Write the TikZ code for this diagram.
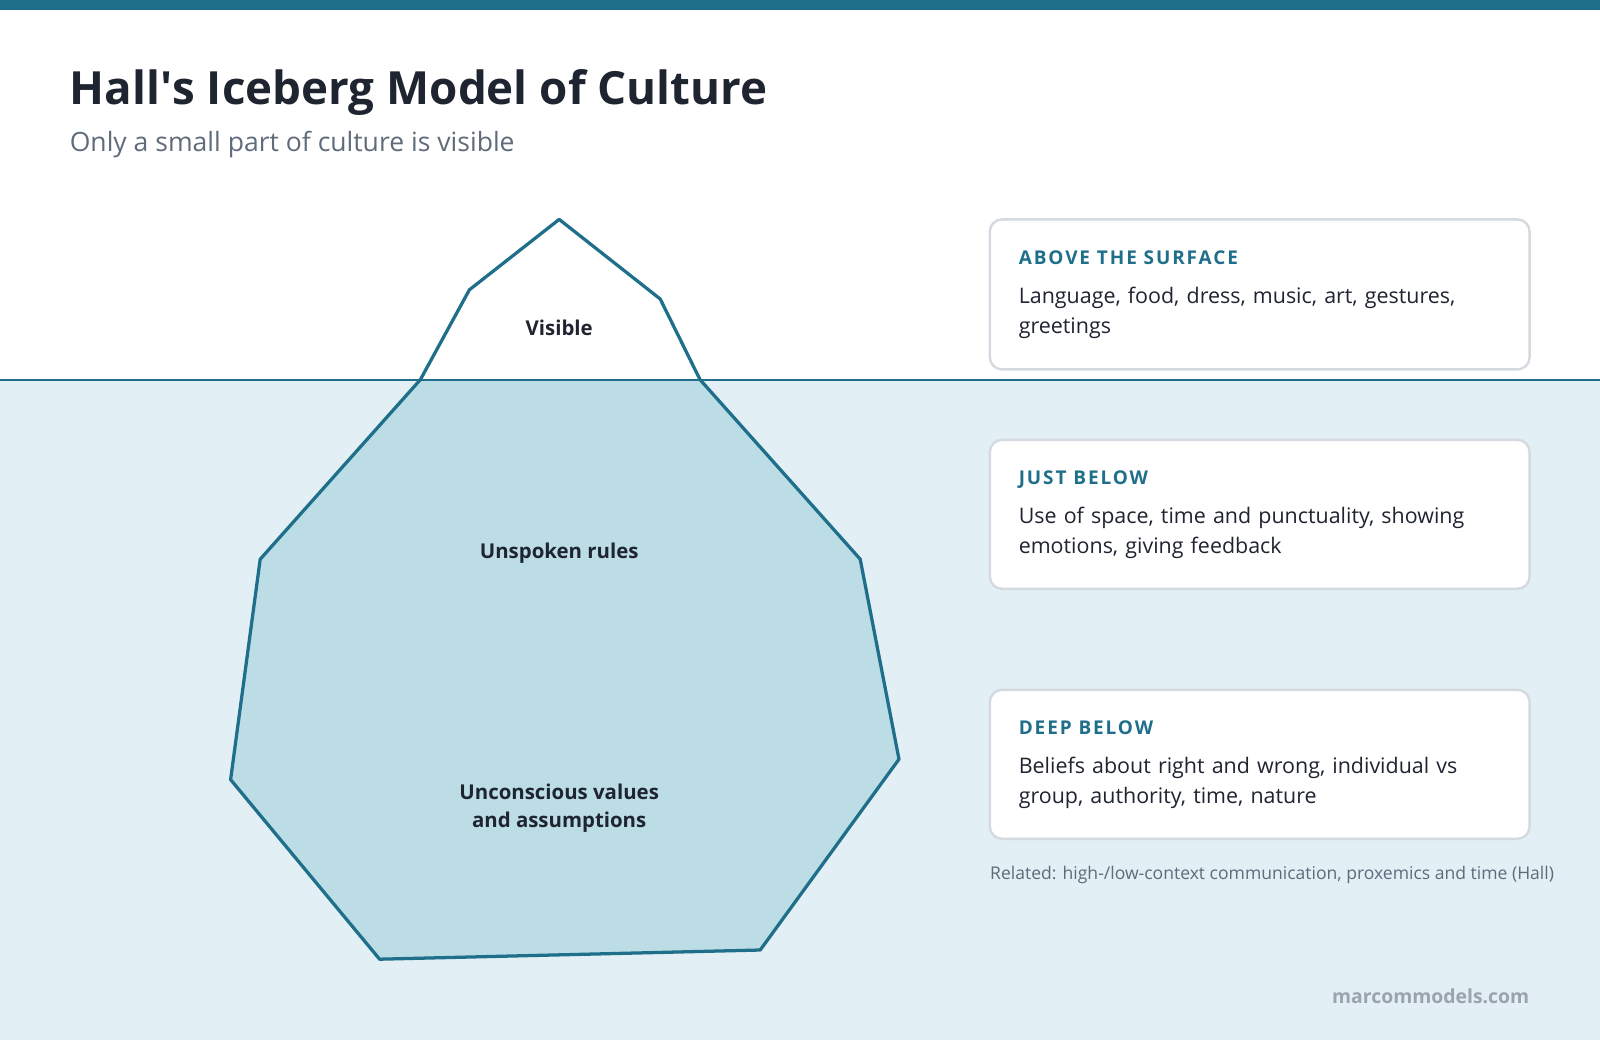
\documentclass[tikz,border=0pt]{standalone}
\usepackage{fontspec}
\setmainfont{Open Sans}
\definecolor{teal}{HTML}{1F6F8B}
\definecolor{water}{HTML}{E2EFF5}
\definecolor{ice}{HTML}{BCDDE6}
\definecolor{ink}{HTML}{1E2430}
\definecolor{sub}{HTML}{5F6B7A}
\definecolor{bord}{HTML}{D5D9E0}
\definecolor{mark}{HTML}{9AA3AE}
\newcommand{\fs}[2]{\fontsize{#1}{#2}\selectfont}
\tikzset{
 box/.style={draw=bord,line width=1.2pt,rounded corners=6pt,fill=white},
 head/.style={anchor=base west,text=teal,font=\fs{9.3pt}{12pt}\bfseries\addfontfeature{LetterSpace=10},inner sep=0pt},
 body/.style={anchor=north west,text=ink,font=\fs{10.5pt}{14.5pt},text width=230pt,align=left,inner sep=0pt},
 lab/.style={text=ink,font=\fs{10pt}{14pt}\bfseries,align=center}
}
\begin{document}
\begin{tikzpicture}[x=0.5pt,y=-0.5pt]
\useasboundingbox (0,0) rectangle (1568,1019);
\fill[water] (0,372) rectangle (1568,1019);
\fill[teal] (0,0) rectangle (1568,10);
\draw[teal,line width=1pt] (0,372) -- (1568,372);
\coordinate (p1) at (548,215);
\fill[ice] (412,372) -- (686,372) -- (843,548) -- (881,744) -- (745,931) -- (372,940) -- (226,764) -- (255,548) -- cycle;
\draw[teal,line width=1.6pt,line join=round] (p1) -- (647,293) -- (686,372) -- (843,548) -- (881,744) -- (745,931) -- (372,940) -- (226,764) -- (255,548) -- (412,372) -- (460,284) -- cycle;
\draw[teal,line width=1pt] (412,372) -- (686,372);
\node[anchor=base west,text=ink,font=\fs{22.4pt}{28pt}\bfseries,inner sep=0pt] (title) at (68,102) {Hall\textquotesingle s Iceberg Model of Culture};
\node[anchor=base west,text=sub,font=\fs{13pt}{16pt},inner sep=0pt] (subt) at (68,148) {Only a small part of culture is visible};
\node[lab] (l1) at (548,321) {Visible};
\node[lab] (l2) at (548,542) {Unspoken rules};
\node[lab] (l3) at (548,792) {Unconscious values\\and assumptions};
\draw[box] (970,215) rectangle (1499,362);
\draw[box] (970,431) rectangle (1499,577);
\draw[box] (970,676) rectangle (1499,822);
\node[head] (h1) at (998,259) {ABOVE THE SURFACE};
\node[body] (b1) at (998,281) {Language, food, dress, music, art, gestures, greetings};
\node[head] (h2) at (998,475) {JUST BELOW};
\node[body] (b2) at (998,497) {Use of space, time and punctuality, showing emotions, giving feedback};
\node[head] (h3) at (998,720) {DEEP BELOW};
\node[body] (b3) at (998,742) {Beliefs about right and wrong, individual vs group, authority, time, nature};
\node[anchor=base west,text=sub,font=\fs{8.6pt}{10pt},inner sep=0pt] (rel) at (970,862) {Related: high-/low-context communication, proxemics and time (Hall)};
\node[anchor=base east,text=mark,font=\fs{9.5pt}{12pt}\bfseries,inner sep=0pt] (mk) at (1499,983) {marcommodels.com};
\end{tikzpicture}
\end{document}
